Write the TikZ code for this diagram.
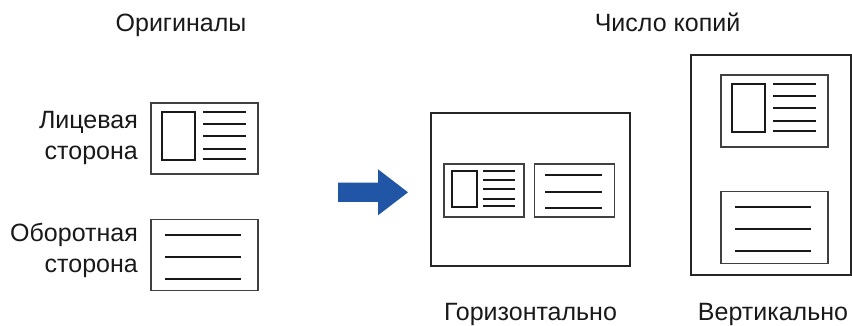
\documentclass[tikz,border=0pt]{standalone}
\usepackage{fontspec}
\setmainfont{Liberation Sans}
\usetikzlibrary{positioning}

\begin{document}
\begin{tikzpicture}[
    x=1pt,
    y=-1pt,
    caption/.style={
        font=\fontsize{25}{31}\selectfont,
        text=black!90,
        inner sep=0pt,
        anchor=base
    },
    sidelabel/.style={
        caption,
        align=right,
        anchor=base east
    },
    card/.style={
        rectangle,
        draw=black!75,
        line width=1.1pt,
        inner sep=0pt,
        minimum width=107pt,
        minimum height=71pt
    },
    smallcard/.style={
        card,
        minimum width=80pt,
        minimum height=53pt
    },
    sheet/.style={
        rectangle,
        draw=black!85,
        line width=2.2pt,
        inner sep=0pt
    },
    textline/.style={
        draw=black!90,
        line width=2pt
    },
    photo/.style={
        draw=black!90,
        line width=2pt
    },
    bluearrow/.style={
        fill={rgb,255:red,33;green,85;blue,165}
    },
    front face/.pic={
        \draw[photo] (12,10) rectangle (45,58);
        \foreach \ly in {10,22,34,47,57}
            \draw[textline] (53,\ly) -- (96,\ly);
    },
    back face/.pic={
        \foreach \ly in {16,38,60}
            \draw[textline] (15,\ly) -- (91,\ly);
    }
]
    \useasboundingbox (0,0) rectangle (852,326);

    % Originals
    \node[caption] (origtitle) at (181,31.5) {Оригиналы};
    \node[card] (front) at (204.5,138.5) {};
    \node[card, below=44pt of front] (back) {};
    \pic at (front.north west) {front face};
    \pic at (back.north west) {back face};
    \node[sidelabel] (frontlabel) at (138,159.3) {Лицевая\\сторона};
    \node[sidelabel] (backlabel) at (138,272.7) {Оборотная\\сторона};

    % Arrow
    \fill[bluearrow] (338,182.6) -- (378,182.6) -- (378,169.3) -- (408,192.3)
        -- (378,215.3) -- (378,202) -- (338,202) -- cycle;

    % Copies
    \node[caption] (copytitle) at (667.5,31.5) {Число копий};

    % Horizontal layout
    \node[sheet, minimum width=199pt, minimum height=153pt] (hsheet) at (530.5,189.5) {};
    \node[smallcard] (hfront) at (484,190.5) {};
    \node[smallcard, right=9pt of hfront] (hback) {};
    \pic[scale=0.75] at (hfront.north west) {front face};
    \pic[scale=0.75] at (hback.north west) {back face};
    \node[caption] (hlabel) at (530.5,320.5) {Горизонтально};

    % Vertical layout
    \node[sheet, minimum width=160pt, minimum height=220pt] (vsheet) at (771,165) {};
    \node[card, minimum height=72pt] (vfront) at (774.5,111) {};
    \node[card, minimum height=72pt, below=43pt of vfront] (vback) {};
    \pic at (vfront.north west) {front face};
    \pic at (vback.north west) {back face};
    \node[caption] (vlabel) at (773,320.5) {Вертикально};

\end{tikzpicture}
\end{document}
